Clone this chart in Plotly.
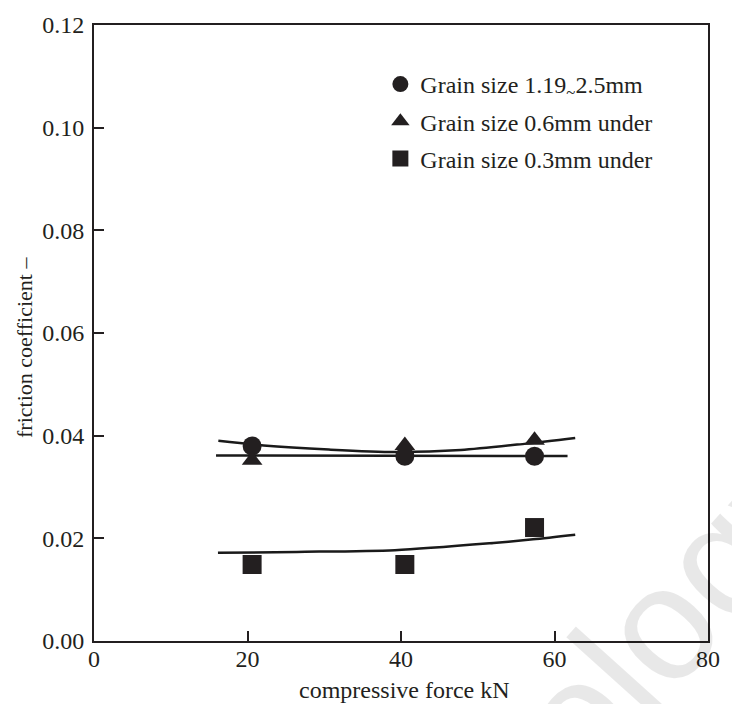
import plotly.graph_objects as go

# Measured friction coefficients at three compressive forces
force_kn = [20.6, 40.5, 57.4]
mu_coarse = [0.0380, 0.0360, 0.0360]      # grain size 1.19~2.5 mm
mu_medium = [0.0352, 0.0381, 0.0391]      # grain size 0.6 mm under
mu_fine = [0.0149, 0.0149, 0.0221]        # grain size 0.3 mm under

# Trend curves (sampled along each fitted line)
trend_u_x = [16.2, 22.1, 30.6, 39.2, 47.8, 56.3, 62.7]
trend_u_y = [0.0390, 0.0381, 0.0373, 0.0368, 0.0372, 0.03845, 0.03955]
trend_flat_x = [15.9, 39.0, 61.7]
trend_flat_y = [0.03614, 0.03608, 0.03602]
trend_fine_x = [16.15, 26.4, 39.2, 52.05, 57.2, 62.7]
trend_fine_y = [0.01717, 0.01736, 0.0177, 0.0191, 0.0198, 0.0207]

x_ticks = [0, 20, 40, 60, 80]
y_ticks = [0.00, 0.02, 0.04, 0.06, 0.08, 0.10, 0.12]

INK = "#231f20"
SERIF = "Liberation Serif, Times New Roman, serif"
FS = 24

fig = go.Figure()

line_style = dict(color="#1a1a1a", width=2.5, shape="spline", smoothing=0.8)
for tx, ty in [(trend_u_x, trend_u_y), (trend_flat_x, trend_flat_y),
               (trend_fine_x, trend_fine_y)]:
    fig.add_trace(go.Scatter(x=tx, y=ty, mode="lines", line=line_style,
                             showlegend=False, hoverinfo="skip"))

series = [
    ("Grain size 1.19<sub>~</sub>2.5mm", mu_coarse, "circle", 19, "g1"),
    ("Grain size 0.6mm under", mu_medium, "triangle-up", 18, "g2"),
    ("Grain size 0.3mm under", mu_fine, "square", 19, "g3"),
]
for name, ys, sym, sz, grp in series:
    fig.add_trace(go.Scatter(
        x=force_kn, y=ys, mode="markers", name=name, legendgroup=grp,
        marker=dict(symbol=sym, size=sz, color=INK, line=dict(width=0)),
    ))

axis_common = dict(
    showline=True, mirror=True, linecolor=INK, linewidth=2,
    ticks="inside", ticklen=10, tickwidth=2, tickcolor=INK,
    showgrid=False, zeroline=False,
    tickfont=dict(family=SERIF, size=FS, color=INK),
)

fig.update_xaxes(range=[0, 80], tickvals=x_ticks, ticklabelstandoff=-5,
                 **axis_common)
fig.update_yaxes(range=[0, 0.12], tickvals=y_ticks, tickformat=".2f",
                 ticklabelstandoff=3, **axis_common)

fig.update_layout(
    width=732, height=704,
    margin=dict(l=94, r=14, t=18, b=63),
    paper_bgcolor="white", plot_bgcolor="white",
    font=dict(family=SERIF, size=FS, color=INK),
    legend=dict(x=0.4664, y=0.94, xanchor="left", yanchor="top",
                bgcolor="rgba(0,0,0,0)", borderwidth=0,
                tracegroupgap=3, itemsizing="trace",
                font=dict(family=SERIF, size=FS, color=INK)),
    annotations=[
        dict(text="compressive force kN", xref="paper", yref="paper",
             x=0.505, y=-0.079, xanchor="center", yanchor="middle",
             showarrow=False, font=dict(family=SERIF, size=FS, color=INK)),
        dict(text="friction coefficient \u2013", xref="paper", yref="paper",
             x=-0.112, y=0.476, xanchor="center", yanchor="middle",
             textangle=-90, showarrow=False,
             font=dict(family=SERIF, size=22, color=INK)),
        dict(text="nology", xref="paper", yref="paper",
             x=0.895, y=-0.003, xanchor="center", yanchor="middle",
             textangle=-48, showarrow=False,
             font=dict(family="Liberation Sans, Arial, sans-serif",
                       size=162, color="rgba(0,0,0,0.09)")),
    ],
)

fig.write_html("out.html")
